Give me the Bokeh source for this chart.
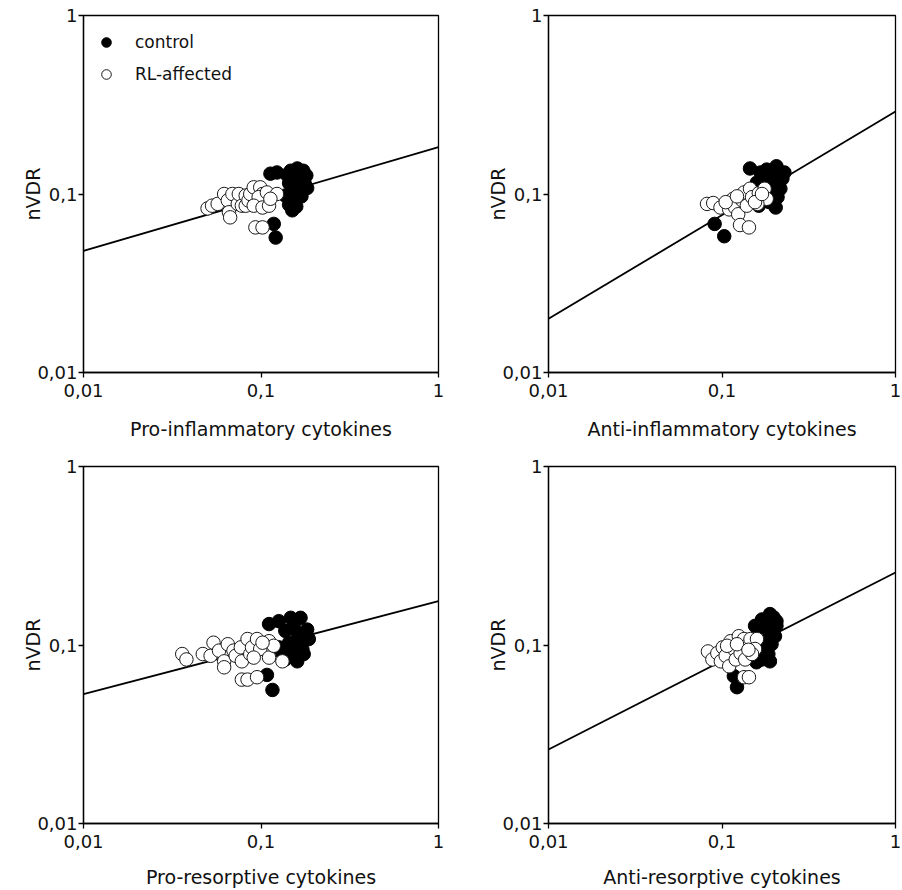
from bokeh.plotting import figure
from bokeh.layouts import column, row
from bokeh.models import Range1d, FixedTicker, CustomJSTickFormatter, Legend, LegendItem
from bokeh.embed import file_html
from bokeh.resources import INLINE

FONT = "DejaVu Sans"

# ---------------- data ----------------
axis_ticks = [0.01, 0.1, 1]
fit_x = [0.01, 1]

# Pro-inflammatory cytokines
pro_inf_ctrl_x = [0.113, 0.123, 0.118, 0.121, 0.147, 0.160, 0.173, 0.180, 0.152, 0.167, 0.144, 0.158, 0.176,
                  0.149, 0.163, 0.143, 0.156, 0.169, 0.144, 0.158, 0.150, 0.182, 0.154, 0.137, 0.140]
pro_inf_ctrl_y = [0.130, 0.132, 0.068, 0.057, 0.135, 0.139, 0.135, 0.127, 0.125, 0.122, 0.115, 0.112, 0.115,
                  0.105, 0.102, 0.095, 0.093, 0.097, 0.087, 0.085, 0.081, 0.108, 0.120, 0.098, 0.128]
pro_inf_rl_x = [0.050, 0.053, 0.057, 0.062, 0.065, 0.069, 0.066, 0.067, 0.074, 0.075, 0.078, 0.082, 0.082, 0.085,
                0.087, 0.091, 0.099, 0.102, 0.097, 0.091, 0.102, 0.111, 0.108, 0.123, 0.113, 0.093, 0.102]
pro_inf_rl_y = [0.083, 0.086, 0.088, 0.100, 0.092, 0.100, 0.079, 0.074, 0.088, 0.100, 0.086, 0.098, 0.086, 0.092,
                0.100, 0.109, 0.109, 0.100, 0.096, 0.086, 0.084, 0.086, 0.102, 0.100, 0.094, 0.065, 0.065]
pro_inf_fit_y = [0.048, 0.183]

# Anti-inflammatory cytokines
anti_inf_ctrl_x = [0.145, 0.181, 0.206, 0.229, 0.172, 0.201, 0.159, 0.186, 0.217, 0.198, 0.163, 0.188, 0.204,
                   0.209, 0.223, 0.193, 0.167, 0.0907, 0.103, 0.176]
anti_inf_ctrl_y = [0.139, 0.137, 0.143, 0.132, 0.122, 0.119, 0.116, 0.110, 0.107, 0.100, 0.086, 0.090, 0.084,
                   0.096, 0.122, 0.128, 0.132, 0.068, 0.058, 0.098]
anti_inf_rl_x = [0.082, 0.089, 0.098, 0.110, 0.116, 0.119, 0.124, 0.131, 0.134, 0.139, 0.145, 0.149, 0.163,
                 0.176, 0.181, 0.127, 0.143, 0.160, 0.105, 0.122, 0.155, 0.170]
anti_inf_rl_y = [0.088, 0.089, 0.084, 0.082, 0.094, 0.084, 0.077, 0.092, 0.102, 0.086, 0.107, 0.096, 0.101,
                 0.107, 0.094, 0.067, 0.065, 0.088, 0.090, 0.097, 0.090, 0.100]
anti_inf_fit_y = [0.020, 0.29]

# Pro-resorptive cytokines
pro_res_ctrl_x = [0.108, 0.116, 0.111, 0.126, 0.147, 0.167, 0.182, 0.137, 0.160, 0.144, 0.163, 0.186, 0.150,
                  0.171, 0.137, 0.160, 0.132, 0.153, 0.174, 0.126]
pro_res_ctrl_y = [0.068, 0.056, 0.131, 0.136, 0.142, 0.142, 0.122, 0.120, 0.117, 0.103, 0.103, 0.108, 0.092,
                  0.095, 0.083, 0.081, 0.090, 0.131, 0.089, 0.097]
pro_res_rl_x = [0.036, 0.038, 0.047, 0.052, 0.054, 0.058, 0.065, 0.062, 0.062, 0.070, 0.072, 0.077, 0.078, 0.084,
                0.087, 0.089, 0.095, 0.099, 0.091, 0.111, 0.111, 0.118, 0.132, 0.078, 0.084, 0.095, 0.102]
pro_res_rl_y = [0.089, 0.083, 0.089, 0.087, 0.103, 0.093, 0.101, 0.081, 0.075, 0.093, 0.087, 0.097, 0.081, 0.108,
                0.089, 0.097, 0.108, 0.095, 0.085, 0.105, 0.085, 0.099, 0.081, 0.064, 0.064, 0.066, 0.103]
pro_res_fit_y = [0.053, 0.176]

# Anti-resorptive cytokines
anti_res_ctrl_x = [0.170, 0.189, 0.206, 0.181, 0.202, 0.162, 0.193, 0.177, 0.170, 0.189, 0.170, 0.206, 0.117,
                   0.122, 0.185, 0.155, 0.176, 0.158, 0.198]
anti_res_ctrl_y = [0.139, 0.149, 0.136, 0.120, 0.112, 0.110, 0.101, 0.092, 0.083, 0.081, 0.103, 0.128, 0.067,
                   0.058, 0.089, 0.128, 0.126, 0.080, 0.143]
anti_res_rl_x = [0.083, 0.088, 0.094, 0.0985, 0.101, 0.105, 0.112, 0.110, 0.117, 0.120, 0.125, 0.128, 0.134,
                 0.139, 0.136, 0.146, 0.159, 0.155, 0.149, 0.134, 0.143, 0.107, 0.122, 0.142]
anti_res_rl_y = [0.092, 0.083, 0.090, 0.081, 0.097, 0.087, 0.105, 0.076, 0.095, 0.083, 0.112, 0.090, 0.108,
                 0.099, 0.083, 0.108, 0.108, 0.095, 0.089, 0.066, 0.066, 0.099, 0.101, 0.094]
anti_res_fit_y = [0.026, 0.255]

y_label = "nVDR"
legend_labels = ["control", "RL-affected"]


def make_panel(xlabel, ctrl_x, ctrl_y, rl_x, rl_y, fit_y, left, right, top, bottom, frame_w, frame_h,
               xlabel_standoff, with_legend=False):
    p = figure(width=left + frame_w + right, height=top + frame_h + bottom,
               x_axis_type="log", y_axis_type="log",
               x_range=Range1d(0.01, 1), y_range=Range1d(0.01, 1),
               output_backend="svg", toolbar_location=None,
               min_border_left=left, min_border_right=right,
               min_border_top=top, min_border_bottom=bottom)
    p.grid.visible = False
    p.outline_line_color = "black"
    p.outline_line_width = 1.3
    p.background_fill_color = "white"
    p.border_fill_color = "white"

    for ax in (p.xaxis[0], p.yaxis[0]):
        ax.ticker = FixedTicker(ticks=axis_ticks, minor_ticks=[])
        ax.formatter = CustomJSTickFormatter(code="return String(tick).replace('.', ',');")
        ax.major_tick_in = 0
        ax.major_tick_out = 5
        ax.minor_tick_in = 0
        ax.minor_tick_out = 0
        ax.axis_line_color = "black"
        ax.axis_line_width = 1.3
        ax.major_tick_line_color = "black"
        ax.major_tick_line_width = 1.3
        ax.major_label_text_font = FONT
        ax.major_label_text_font_size = "18px"
        ax.major_label_text_color = "#111111"
        ax.axis_label_text_font = FONT
        ax.axis_label_text_font_size = "19px"
        ax.axis_label_text_font_style = "normal"
        ax.axis_label_text_color = "#111111"

    p.xaxis.axis_label = xlabel
    p.xaxis.major_label_standoff = 6
    p.xaxis.axis_label_standoff = xlabel_standoff
    p.yaxis.axis_label = y_label
    p.yaxis.major_label_standoff = 1
    p.yaxis.axis_label_standoff = -10

    p.line(fit_x, fit_y, line_color="black", line_width=1.8)
    r_ctrl = p.scatter(ctrl_x, ctrl_y, marker="circle", size=13.5,
                       fill_color="black", line_color="black", line_width=1)
    r_rl = p.scatter(rl_x, rl_y, marker="circle", size=13.5,
                     fill_color="white", line_color="#1a1a1a", line_width=1)

    if with_legend:
        legend = Legend(items=[LegendItem(label=legend_labels[0], renderers=[r_ctrl]),
                               LegendItem(label=legend_labels[1], renderers=[r_rl])],
                        location="top_left", margin=0, padding=11, spacing=0,
                        glyph_width=24, glyph_height=32, label_height=32, label_standoff=17,
                        label_text_font=FONT, label_text_font_size="17px", label_text_color="#111111",
                        border_line_alpha=0, background_fill_alpha=0)
        p.add_layout(legend)
    return p


# top row: frames at y 15..372 ; bottom row: frames at y 466..823
p1 = make_panel("Pro-inflammatory cytokines", pro_inf_ctrl_x, pro_inf_ctrl_y, pro_inf_rl_x, pro_inf_rl_y,
                pro_inf_fit_y, 83, 10, 15, 82, 355, 357, 18, with_legend=True)
p2 = make_panel("Anti-inflammatory cytokines", anti_inf_ctrl_x, anti_inf_ctrl_y, anti_inf_rl_x, anti_inf_rl_y,
                anti_inf_fit_y, 100, 7, 15, 82, 347, 357, 18)
p3 = make_panel("Pro-resorptive cytokines", pro_res_ctrl_x, pro_res_ctrl_y, pro_res_rl_x, pro_res_rl_y,
                pro_res_fit_y, 83, 10, 12, 67, 355, 357, 15)
p4 = make_panel("Anti-resorptive cytokines", anti_res_ctrl_x, anti_res_ctrl_y, anti_res_rl_x, anti_res_rl_y,
                anti_res_fit_y, 100, 7, 12, 67, 347, 357, 15)

layout = column(row(p1, p2), row(p3, p4))

open("out.html", "w").write(file_html(layout, INLINE))
